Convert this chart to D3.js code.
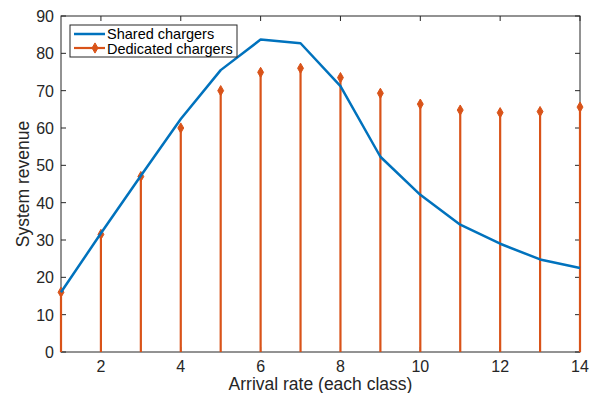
<!DOCTYPE html>
<html>
<head>
<meta charset="utf-8">
<script src="https://cdn.jsdelivr.net/npm/d3@7"></script>
<style>
  html, body { margin: 0; padding: 0; background: #fff; }
  svg { display: block; font-family: "Liberation Sans", Arial, Helvetica, sans-serif; }
</style>
</head>
<body>
<svg id="chart" width="601" height="393"></svg>
<script>
// Arrival rate per class
const arrivalRates = [1, 2, 3, 4, 5, 6, 7, 8, 9, 10, 11, 12, 13, 14];
// System revenue with shared chargers
const sharedRevenue = [16, 31.8, 47.2, 62.4, 75.5, 83.7, 82.7, 71.2, 52.3, 42.1, 34.1, 29, 24.8, 22.5];
// System revenue with dedicated chargers
const dedicatedRevenue = [16, 31.5, 47, 60, 70, 74.9, 76, 73.5, 69.3, 66.4, 64.8, 64.1, 64.4, 65.6];
const xTicks = [2, 4, 6, 8, 10, 12, 14];
const yTicks = [0, 10, 20, 30, 40, 50, 60, 70, 80, 90];

const margin = { left: 61, right: 21, top: 16, bottom: 41 };
const width = 601, height = 393;
const svg = d3.select("#chart");

const x = d3.scaleLinear().domain([1, 14]).range([margin.left, width - margin.right]);
const y = d3.scaleLinear().domain([0, 90]).range([height - margin.bottom, margin.top]);

const axisColor = "#262626";
const blue = "#0072BD", orange = "#D95319";

// Plot box
svg.append("rect")
  .attr("x", x(1)).attr("y", y(90))
  .attr("width", x(14) - x(1)).attr("height", y(0) - y(90))
  .attr("fill", "#fff").attr("stroke", axisColor).attr("stroke-width", 1);

// Inward ticks on all four sides
const tickLen = 5;
const g = svg.append("g").attr("stroke", axisColor).attr("stroke-width", 1);
xTicks.forEach(t => {
  g.append("line").attr("x1", x(t)).attr("x2", x(t)).attr("y1", y(0)).attr("y2", y(0) - tickLen);
  g.append("line").attr("x1", x(t)).attr("x2", x(t)).attr("y1", y(90)).attr("y2", y(90) + tickLen);
});
yTicks.forEach(t => {
  g.append("line").attr("x1", x(1)).attr("x2", x(1) + tickLen).attr("y1", y(t)).attr("y2", y(t));
  g.append("line").attr("x1", x(14)).attr("x2", x(14) - tickLen).attr("y1", y(t)).attr("y2", y(t));
});

// Tick labels
const tickFont = 16;
svg.append("g").selectAll("text").data(xTicks).join("text")
  .attr("x", d => x(d)).attr("y", y(0) + 19.5)
  .attr("text-anchor", "middle").attr("font-size", tickFont).attr("fill", axisColor)
  .text(d => d);
svg.append("g").selectAll("text").data(yTicks).join("text")
  .attr("x", x(1) - 7).attr("y", d => y(d) + 6)
  .attr("text-anchor", "end").attr("font-size", tickFont).attr("fill", axisColor)
  .text(d => d);

// Axis titles
const titleFont = 17.5;
svg.append("text")
  .attr("x", (x(1) + x(14)) / 2).attr("y", 390)
  .attr("text-anchor", "middle").attr("font-size", titleFont).attr("fill", axisColor)
  .text("Arrival rate (each class)");
svg.append("text")
  .attr("transform", `translate(29,${(y(0) + y(90)) / 2}) rotate(-90)`)
  .attr("text-anchor", "middle").attr("font-size", titleFont).attr("fill", axisColor)
  .text("System revenue");

// Dedicated chargers: stems with diamond markers
const stems = svg.append("g");
arrivalRates.forEach((r, i) => {
  stems.append("line")
    .attr("x1", x(r)).attr("x2", x(r))
    .attr("y1", y(0)).attr("y2", y(dedicatedRevenue[i]))
    .attr("stroke", orange).attr("stroke-width", 2.2);
});
const diamond = d3.symbol().type(d3.symbolDiamond).size(30);
stems.selectAll("path").data(arrivalRates).join("path")
  .attr("d", diamond)
  .attr("transform", (r, i) => `translate(${x(r)},${y(dedicatedRevenue[i])})`)
  .attr("fill", orange).attr("stroke", orange).attr("stroke-width", 1);

// Shared chargers line
const line = d3.line().x((d, i) => x(arrivalRates[i])).y(d => y(d));
svg.append("path").datum(sharedRevenue)
  .attr("d", line).attr("fill", "none")
  .attr("stroke", blue).attr("stroke-width", 2.5).attr("stroke-linejoin", "round");

// Legend
const lg = svg.append("g");
lg.append("rect").attr("x", 70).attr("y", 25).attr("width", 167).attr("height", 32)
  .attr("fill", "#fff").attr("stroke", axisColor).attr("stroke-width", 1);
lg.append("line").attr("x1", 74).attr("x2", 105).attr("y1", 34).attr("y2", 34)
  .attr("stroke", blue).attr("stroke-width", 2.5);
lg.append("line").attr("x1", 74).attr("x2", 105).attr("y1", 48).attr("y2", 48)
  .attr("stroke", orange).attr("stroke-width", 2.2);
lg.append("path").attr("d", diamond).attr("transform", "translate(95,48)")
  .attr("fill", orange).attr("stroke", orange);
lg.append("text").attr("x", 107).attr("y", 39).attr("font-size", 14.5).attr("fill", "#000").text("Shared chargers");
lg.append("text").attr("x", 107).attr("y", 53.5).attr("font-size", 14.5).attr("fill", "#000").text("Dedicated chargers");
</script>
</body>
</html>
